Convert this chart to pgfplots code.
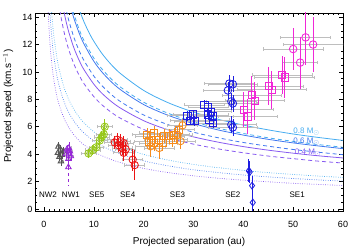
\documentclass[border=0pt]{standalone}
\usepackage{fontspec}
\setmainfont{Liberation Sans}
\usepackage{pgfplots}
\pgfplotsset{compat=1.18}
\usepackage{pgfplotstable}

\definecolor{c08}{RGB}{70,172,240}
\definecolor{c06}{RGB}{65,120,240}
\definecolor{c04}{RGB}{135,90,240}
\definecolor{cNW2}{RGB}{85,85,85}
\definecolor{cNW1}{RGB}{150,40,215}
\definecolor{cSE5}{RGB}{150,200,25}
\definecolor{cSE4}{RGB}{235,20,20}
\definecolor{cSE3}{RGB}{245,140,30}
\definecolor{cSE2}{RGB}{30,30,225}
\definecolor{cSE1}{RGB}{240,40,215}
\definecolor{gbar}{RGB}{190,190,190}

\pgfplotstableread{
x y ex ey
2.9 4.55 0.4 0.35
3.3 4.35 0.4 0.3
2.8 4.10 0.4 0.3
3.6 3.95 0.4 0.3
3.1 3.80 0.4 0.3
3.4 3.48 0.4 0.35
3.9 4.20 0.4 0.3
}\tNWtwo
\pgfplotstableread{
x y ex ey
4.6 4.35 0.5 0.35
5.2 4.20 0.5 0.3
4.4 4.00 0.5 0.3
5.4 3.85 0.5 0.35
4.9 3.65 0.5 0.35
5.0 4.45 0.5 0.4
}\tNWone
\pgfplotstableread{
x y ex ey
4.9 3.05 0.5 1.35
}\tNWoneout
\pgfplotstableread{
x y ex ey
8.95 4.05 1.5 0.35
9.8 4.30 1.5 0.35
10.5 4.50 1.5 0.35
11.2 5.00 1.5 0.4
11.6 5.25 1.5 0.4
12.0 5.45 1.5 0.5
12.2 6.00 1.5 0.6
}\tSEfive
\pgfplotstableread{
x y ex ey
14.7 5.05 2 0.5
15.35 4.95 2 0.5
16.0 4.80 2 0.5
15.0 4.65 2 0.5
15.7 4.45 2 0.5
16.4 4.35 2 0.5
16.0 4.10 2 0.6
17.8 3.60 2 0.8
18.2 3.20 2 1.1
14.2 4.85 2 0.5
}\tSEfour
\pgfplotstableread{
x y ex ey
20.7 5.42 3 0.5
21.4 5.30 3 0.5
22.1 5.54 3 0.5
21.1 4.93 3 0.6
22.1 4.81 3 0.6
23.1 5.05 3 0.5
23.8 4.81 3 0.6
24.1 5.30 3 0.5
25.1 5.30 3 0.5
26.1 5.42 3 0.5
27.1 5.78 3 0.5
25.8 5.05 3 0.5
}\tSEthreeSq
\pgfplotstableread{
x y ex ey
21.4 4.57 3 0.8
23.1 4.45 3 0.8
27.8 6.10 3 0.5
26.8 5.40 3 0.6
27.4 4.95 3 0.6
}\tSEthreeCi
\pgfplotstableread{
x y ex ey
28.8 6.80 4 0.35
29.3 6.45 4 0.35
29.9 6.90 4 0.35
30.2 6.40 4 0.35
32.2 7.60 4 0.35
32.9 7.45 4 0.35
33.5 7.10 4 0.35
32.9 6.85 4 0.35
33.9 6.75 4 0.35
33.2 6.50 4 0.35
33.9 6.25 4 0.35
}\tSEtwoSq
\pgfplotstableread{
x y ex ey
37.2 9.15 5 0.6
37.9 9.10 5 0.6
36.9 8.65 5 0.6
37.6 7.85 5 0.6
37.9 7.70 5 0.6
37.6 6.15 5 0.6
37.9 5.95 5 0.6
}\tSEtwoCi
\pgfplotstableread{
x y ex ey
41.1 2.78 0 0.85
41.3 2.70 0 0.8
41.75 1.70 0 0.7
41.9 0.47 0 0.8
}\tSEtwoDi
\pgfplotstableread{
x y ex ey
40.1 7.25 6 1.3
40.9 6.75 6 1.3
41.7 8.30 6 1.4
42.3 7.90 6 1.4
45.1 8.95 7 1.4
45.7 8.70 7 1.4
47.8 9.78 6 1.4
48.3 9.60 6 1.5
}\tSEoneSq
\pgfplotstableread{
x y ex ey
50.0 11.67 6 1.5
51.4 10.68 3.5 1.9
52.5 12.52 5 2.0
54.0 12.00 6 2.0
}\tSEoneCi

\pgfplotsset{
  hbar/.style={draw=none, mark=none, forget plot,
    error bars/x dir=both, error bars/x explicit,
    error bars/error bar style={color=gbar, line width=0.6pt},
    error bars/error mark options={rotate=90, color=gbar, mark size=1.6pt, line width=0.6pt}},
  vbar/.style={only marks, color=#1, mark options={solid, line width=0.85pt, fill=none},
    error bars/y dir=both, error bars/y explicit, error bars/error mark=none,
    error bars/error bar style={color=#1, line width=0.7pt}},
  curve/.style={color=#1, line width=0.8pt, smooth, mark=none},
}

\begin{document}
\begin{tikzpicture}
\useasboundingbox (-35pt,-37pt) rectangle (319pt,211pt);
\begin{axis}[
  scale only axis, width=308pt, height=198pt,
  xmin=-1.8, xmax=60, ymin=-0.15, ymax=14.3,
  xtick={0,10,...,60}, ytick={0,2,...,14},
  minor x tick num=9, minor y tick num=3,
  major tick length=4pt, minor tick length=2pt,
  tick style={black, line width=0.6pt},
  axis line style={line width=0.8pt},
  tick label style={font=\fontsize{9}{10}\selectfont},
  xticklabel style={yshift=-6.5pt},
  yticklabel style={xshift=1pt},
  /pgf/number format/assume math mode=true,
  xlabel={Projected separation (au)},
  ylabel={Projected speed (km.s$^{-1}$)},
  label style={font=\fontsize{10}{12}\selectfont},
  xlabel style={at={(axis description cs:0.5,-0.155)}, anchor=center},
  ylabel style={at={(axis description cs:-0.087,0.53)}, anchor=center},
]
% model curves
\addplot[curve=c08] coordinates {(7,14.63)(8,13.68)(9,12.9)(10,12.24)(12,11.17)(15,9.99)(20,8.65)(25,7.74)(30,7.07)(35,6.54)(40,6.12)(45,5.77)(50,5.47)(55,5.22)(60,5.00)};
\addplot[curve=c06] coordinates {(5.5,14.54)(6,13.92)(7,12.89)(8,12.06)(10,10.78)(12,9.84)(15,8.80)(20,7.62)(25,6.82)(30,6.23)(35,5.76)(40,5.39)(45,5.08)(50,4.82)(55,4.60)(60,4.40)};
\addplot[curve=c04] coordinates {(4,14.4)(4.5,13.58)(5,12.88)(6,11.76)(7,10.89)(8,10.18)(10,9.11)(12,8.31)(15,7.44)(20,6.44)(25,5.76)(30,5.26)(35,4.87)(40,4.55)(45,4.29)(50,4.07)(55,3.88)(60,3.72)};
\addplot[curve=c08, dash pattern=on 4pt off 3pt] coordinates {(5.8,14.46)(6,14.22)(7,13.17)(8,12.31)(10,11.01)(12,10.06)(15,8.99)(20,7.79)(25,6.97)(30,6.36)(35,5.89)(40,5.51)(45,5.19)(50,4.93)(55,4.70)(60,4.50)};
\addplot[curve=c06, dash pattern=on 4pt off 3pt] coordinates {(4.5,14.47)(5,13.72)(6,12.53)(7,11.60)(8,10.85)(10,9.70)(12,8.86)(15,7.92)(20,6.86)(25,6.14)(30,5.60)(35,5.19)(40,4.85)(45,4.58)(50,4.34)(55,4.14)(60,3.96)};
\addplot[curve=c04, dash pattern=on 4pt off 3pt] coordinates {(3.2,14.49)(3.5,13.85)(4,12.96)(4.5,12.22)(5,11.59)(6,10.58)(7,9.80)(8,9.16)(10,8.20)(12,7.48)(15,6.69)(20,5.80)(25,5.18)(30,4.73)(35,4.38)(40,4.10)(45,3.86)(50,3.67)(55,3.49)(60,3.35)};
\addplot[curve=c08, line width=0.7pt, dash pattern=on 0.7pt off 1.6pt] coordinates {(1.5,14.53)(1.75,13.46)(2,12.59)(2.5,11.26)(3,10.28)(4,8.90)(5,7.96)(6,7.27)(7,6.73)(8,6.29)(10,5.63)(12,5.14)(15,4.60)(20,3.98)(25,3.56)(30,3.25)(35,3.01)(40,2.81)(45,2.65)(50,2.52)(55,2.40)(60,2.30)};
\addplot[curve=c06, line width=0.7pt, dash pattern=on 0.7pt off 1.6pt] coordinates {(1.15,14.63)(1.3,13.76)(1.5,12.81)(1.75,11.86)(2,11.09)(2.5,9.92)(3,9.06)(4,7.85)(5,7.02)(6,6.41)(7,5.93)(8,5.55)(10,4.96)(12,4.53)(15,4.05)(20,3.51)(25,3.14)(30,2.86)(35,2.65)(40,2.48)(45,2.34)(50,2.22)(55,2.12)(60,2.03)};
\addplot[curve=c04, line width=0.7pt, dash pattern=on 0.7pt off 1.6pt] coordinates {(0.85,14.37)(1,13.25)(1.2,12.10)(1.5,10.82)(1.75,10.02)(2,9.37)(2.5,8.38)(3,7.65)(4,6.63)(5,5.93)(6,5.41)(7,5.01)(8,4.68)(10,4.19)(12,3.82)(15,3.42)(20,2.96)(25,2.65)(30,2.42)(35,2.24)(40,2.10)(45,1.98)(50,1.87)(55,1.79)(60,1.71)};

% grey horizontal error bars
\addplot[hbar] table[x=x,y=y,x error=ex] \tNWtwo;
\addplot[hbar] table[x=x,y=y,x error=ex] \tNWone;
\addplot[hbar] table[x=x,y=y,x error=ex] \tSEfive;
\addplot[hbar] table[x=x,y=y,x error=ex] \tSEfour;
\addplot[hbar] table[x=x,y=y,x error=ex] \tSEthreeSq;
\addplot[hbar] table[x=x,y=y,x error=ex] \tSEthreeCi;
\addplot[hbar] table[x=x,y=y,x error=ex] \tSEtwoSq;
\addplot[hbar] table[x=x,y=y,x error=ex] \tSEtwoCi;
\addplot[hbar] table[x=x,y=y,x error=ex] \tSEoneSq;
\addplot[hbar] table[x=x,y=y,x error=ex] \tSEoneCi;

% data points with vertical error bars
\addplot[vbar=cNW2, mark=triangle, mark size=3.2pt] table[x=x,y=y,y error=ey] \tNWtwo;
\addplot[vbar=cNW1, mark=triangle, mark size=3.2pt] table[x=x,y=y,y error=ey] \tNWone;
\addplot[vbar=cNW1, mark=triangle, mark size=3.2pt, error bars/error bar style={dashed}] table[x=x,y=y,y error=ey] \tNWoneout;
\addplot[vbar=cSE5, mark=o, mark size=3.7pt] table[x=x,y=y,y error=ey] \tSEfive;
\addplot[only marks, cSE5, mark=diamond, mark size=2.9pt, mark options={line width=0.7pt}] table[x=x,y=y] \tSEfive;
\addplot[vbar=cSE4, mark=o, mark size=3.7pt] table[x=x,y=y,y error=ey] \tSEfour;
\addplot[vbar=cSE3, mark=square, mark size=3.6pt] table[x=x,y=y,y error=ey] \tSEthreeSq;
\addplot[vbar=cSE3, mark=o, mark size=3.7pt] table[x=x,y=y,y error=ey] \tSEthreeCi;
\addplot[vbar=cSE2, mark=square, mark size=3.6pt] table[x=x,y=y,y error=ey] \tSEtwoSq;
\addplot[vbar=cSE2, mark=o, mark size=3.8pt] table[x=x,y=y,y error=ey] \tSEtwoCi;
\addplot[vbar=cSE2, mark=diamond, mark size=3.4pt] table[x=x,y=y,y error=ey] \tSEtwoDi;
\addplot[vbar=cSE1, mark=square, mark size=3.6pt] table[x=x,y=y,y error=ey] \tSEoneSq;
\addplot[vbar=cSE1, mark=o, mark size=3.8pt] table[x=x,y=y,y error=ey] \tSEoneCi;

% labels
\node[c08, font=\fontsize{8}{9}\selectfont] at (axis cs:52.7,5.62) {0.8 M$_\odot$};
\node[c06, font=\fontsize{8}{9}\selectfont] at (axis cs:52.7,4.93) {0.6 M$_\odot$};
\node[c04, font=\fontsize{8}{9}\selectfont] at (axis cs:53.0,4.10) {0.4 M$_\odot$};
\node[font=\fontsize{8}{9}\selectfont] at (axis cs:0.8,1.05) {NW2};
\node[font=\fontsize{8}{9}\selectfont] at (axis cs:5.4,1.05) {NW1};
\node[font=\fontsize{8}{9}\selectfont] at (axis cs:10.6,1.05) {SE5};
\node[font=\fontsize{8}{9}\selectfont] at (axis cs:16.8,1.05) {SE4};
\node[font=\fontsize{8}{9}\selectfont] at (axis cs:26.8,1.05) {SE3};
\node[font=\fontsize{8}{9}\selectfont] at (axis cs:37.9,1.05) {SE2};
\node[font=\fontsize{8}{9}\selectfont] at (axis cs:50.8,1.05) {SE1};
\end{axis}
\end{tikzpicture}
\end{document}
